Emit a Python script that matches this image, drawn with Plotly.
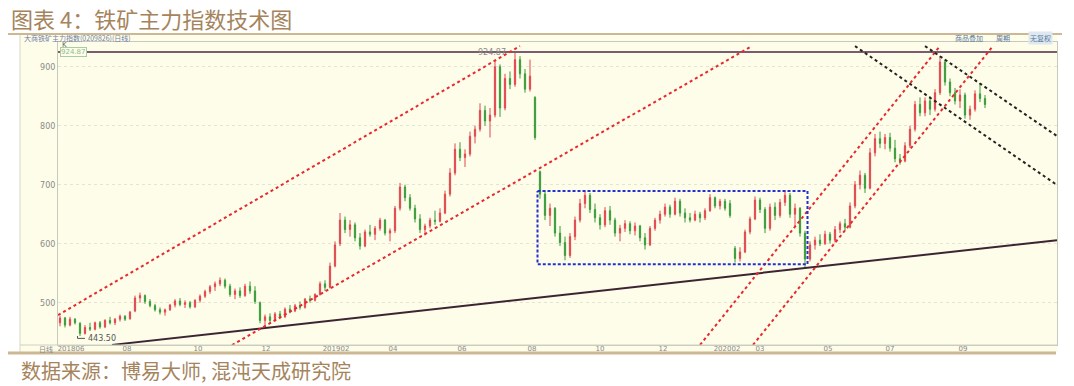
import plotly.graph_objects as go

# ---------------- data (one candle ~ every 3 trading days) ----------------
opens = [
    466, 474, 462, 472, 465, 448, 458, 455, 466, 459,
    470, 466, 472, 477, 473, 486, 508, 512, 502, 495,
    488, 484, 488, 496, 503, 497, 500, 493, 504, 511,
    519, 527, 532, 538, 528, 514, 520, 512, 528, 520,
    500, 470, 476, 470, 481, 476, 489, 486, 495, 492,
    506, 504, 514, 532, 526, 562, 600, 640, 624, 632,
    610, 596, 620, 616, 626, 640, 618, 622, 660, 696,
    678, 660, 642, 624, 630, 640, 638, 652, 684, 720,
    760, 746, 752, 782, 794, 826, 808, 818, 900, 830,
    880, 870, 912, 888, 862, 848, 722, 684, 648, 660,
    618, 602, 580, 612, 640, 668, 682, 658, 644, 632,
    656, 640, 618, 626, 634, 622, 630, 610, 598, 626,
    640, 650, 662, 650, 672, 652, 644, 640, 650, 644,
    656, 678, 664, 672, 668, 592, 575, 586, 620, 642,
    674, 658, 626, 662, 648, 670, 682, 650, 660, 618,
    574, 598, 606, 600, 616, 606, 624, 634, 628, 664,
    700, 716, 694, 754, 778, 770, 780, 762, 744, 740,
    766, 794, 836, 822, 842, 828, 856, 908, 874, 856,
    842, 852, 818, 828, 854, 846,
]
highs = [
    478, 476, 476, 474, 467, 462, 466, 468, 469, 472,
    476, 474, 480, 479, 486, 512, 517, 514, 506, 498,
    492, 490, 498, 506, 508, 504, 503, 506, 514, 522,
    530, 536, 543, 541, 532, 524, 526, 532, 536, 528,
    502, 480, 482, 484, 486, 492, 496, 498, 502, 508,
    512, 516, 536, 538, 568, 604, 652, 646, 640, 636,
    618, 624, 632, 630, 644, 642, 626, 664, 703, 700,
    684, 666, 650, 634, 644, 656, 660, 690, 728, 770,
    772, 760, 790, 800, 838, 834, 830, 912, 904, 888,
    892, 924.87, 918, 896, 912, 850, 724, 690, 668, 662,
    630, 612, 618, 646, 676, 690, 686, 668, 650, 662,
    664, 644, 632, 640, 638, 636, 632, 618, 630, 644,
    656, 668, 666, 678, 676, 660, 652, 656, 654, 660,
    684, 680, 676, 676, 674, 596, 594, 624, 646, 680,
    678, 662, 668, 670, 676, 691, 686, 668, 662, 622,
    604, 612, 616, 622, 620, 630, 638, 642, 670, 706,
    724, 720, 762, 786, 790, 786, 788, 776, 752, 772,
    800, 842, 848, 848, 850, 862, 918, 912, 880, 864,
    862, 856, 834, 860, 872, 852,
]
lows = [
    460, 458, 460, 463, 443.5, 446, 452, 453, 456, 457,
    463, 462, 468, 469, 471, 484, 500, 498, 492, 485,
    480, 478, 486, 492, 494, 491, 490, 491, 500, 508,
    515, 520, 528, 524, 510, 506, 508, 510, 515, 498,
    465, 458, 466, 468, 472, 474, 482, 484, 488, 490,
    500, 502, 512, 520, 524, 560, 596, 618, 612, 604,
    590, 594, 612, 606, 622, 614, 604, 618, 656, 672,
    656, 636, 618, 614, 626, 632, 636, 650, 680, 716,
    740, 730, 748, 770, 790, 800, 780, 814, 815, 826,
    862, 866, 880, 856, 858, 776, 676, 640, 630, 612,
    596, 572, 576, 606, 636, 660, 652, 636, 624, 628,
    632, 612, 604, 620, 616, 614, 604, 590, 596, 622,
    634, 646, 644, 648, 646, 636, 636, 638, 636, 640,
    654, 660, 658, 656, 644, 568, 570, 584, 616, 640,
    652, 618, 622, 640, 644, 664, 644, 630, 612, 559,
    570, 590, 596, 598, 600, 602, 618, 622, 626, 660,
    692, 686, 692, 748, 762, 760, 756, 738, 734, 738,
    762, 790, 816, 816, 818, 824, 852, 868, 850, 836,
    830, 812, 810, 824, 840, 830,
]
closes = [
    474, 462, 472, 466, 448, 458, 455, 466, 459, 470,
    466, 472, 477, 472, 484, 508, 512, 502, 495, 488,
    484, 488, 496, 503, 497, 500, 493, 504, 511, 519,
    527, 532, 538, 528, 514, 520, 512, 528, 520, 502,
    470, 476, 470, 481, 476, 489, 486, 495, 492, 506,
    504, 514, 532, 526, 562, 598, 640, 624, 632, 610,
    596, 620, 616, 626, 640, 618, 622, 660, 696, 678,
    660, 642, 624, 630, 640, 638, 652, 684, 720, 760,
    746, 752, 782, 794, 826, 808, 818, 900, 830, 880,
    870, 912, 888, 862, 884, 780, 684, 648, 660, 618,
    602, 580, 612, 640, 668, 682, 658, 644, 632, 656,
    640, 618, 626, 634, 622, 630, 610, 598, 626, 640,
    650, 662, 650, 672, 652, 644, 640, 650, 644, 656,
    678, 664, 672, 660, 648, 575, 586, 620, 642, 674,
    658, 626, 662, 648, 670, 682, 650, 660, 618, 574,
    598, 606, 600, 616, 606, 624, 634, 628, 664, 700,
    716, 694, 754, 778, 770, 780, 762, 744, 740, 766,
    794, 836, 822, 842, 828, 856, 908, 874, 856, 842,
    852, 818, 828, 854, 846, 836,
]
assert len(opens) == len(highs) == len(lows) == len(closes)
idx = list(range(len(closes)))

month_pos = [2.2, 13.4, 27.6, 41.2, 55.2, 66.6, 80.4, 94.4, 108, 120.6, 133.4, 140, 153.6, 166, 180.6]
month_labels = ["201806", "08", "10", "12", "201902", "04", "06", "08", "10", "12",
                "202002", "03", "05", "07", "09"]
y_ticks = [500, 600, 700, 800, 900]

peak_value = 924.87
low_value = 443.50
low_index = 4

# trend lines: (x-index pair, price pair)
support_x, support_y = [10.4, 199.4], [428.5, 606.0]
chan_up_x, chan_up_y = [-0.4, 92.0], [479.0, 935.0]
chan_lo_x, chan_lo_y = [34.4, 138.4], [428.3, 935.0]
steep1_x, steep1_y = [128.0, 176.0], [428.3, 935.0]
steep2_x, steep2_y = [138.6, 186.6], [428.3, 935.0]
down1_x, down1_y = [159.0, 199.4], [935.0, 699.5]
down2_x, down2_y = [173.0, 199.4], [935.0, 782.5]
box_x, box_y = [95.5, 149.5], [565.1, 689.3]

# ---------------- figure ----------------
W, H = 1074, 386
L, R, T, B = 58, 17, 42, 41
PW, PH = W - L - R, H - T - B


def px(xp):
    return (xp - L) / PW


def py(yp):
    return (H - B - yp) / PH


RED = "#E0484E"
GREEN = "#3C9A3C"
TAN = "#A5845C"

fig = go.Figure()
fig.add_trace(go.Candlestick(
    x=idx, open=opens, high=highs, low=lows, close=closes,
    increasing=dict(line=dict(color=RED, width=1), fillcolor=RED),
    decreasing=dict(line=dict(color=GREEN, width=1), fillcolor=GREEN),
    whiskerwidth=0, showlegend=False, hoverinfo="skip",
))


def add_line(xs, ys, color, width=2, dash="3px,3px"):
    fig.add_trace(go.Scatter(x=xs, y=ys, mode="lines", showlegend=False, hoverinfo="skip",
                             line=dict(color=color, width=width, dash=dash)))


add_line([-0.4, 199.4], [peak_value, peak_value], "#7A5C6E", 2, "solid")
add_line(support_x, support_y, "#3D2433", 2, "solid")
for xs, ys in [(chan_up_x, chan_up_y), (chan_lo_x, chan_lo_y), (steep1_x, steep1_y), (steep2_x, steep2_y)]:
    add_line(xs, ys, "#E8282E", 2, "3px,3px")
for xs, ys in [(down1_x, down1_y), (down2_x, down2_y)]:
    add_line(xs, ys, "#222222", 2, "3px,3px")
add_line([box_x[0], box_x[1], box_x[1], box_x[0], box_x[0]],
         [box_y[1], box_y[1], box_y[0], box_y[0], box_y[1]], "#2530D0", 2, "3px,2px")
# low marker
add_line([low_index - 0.5, low_index - 0.5, low_index + 1.0], [low_value, low_value - 4, low_value - 4], "#555555", 1, "solid")

shapes = [
    # cream panel
    dict(type="rect", xref="paper", yref="paper", x0=px(20), x1=px(1057), y0=py(352), y1=py(35),
         fillcolor="#FDFDE9", line=dict(width=0), layer="below"),
    dict(type="line", xref="paper", yref="paper", x0=px(20), x1=px(20), y0=py(352), y1=py(35),
         line=dict(color="#D8D8C8", width=1)),
    dict(type="line", xref="paper", yref="paper", x0=px(20), x1=px(1057), y0=py(345), y1=py(345),
         line=dict(color="#D0D0C0", width=1)),
    # tan rules
    dict(type="line", xref="paper", yref="paper", x0=px(8), x1=px(1062), y0=py(34), y1=py(34),
         line=dict(color="#CDB894", width=2)),
    dict(type="line", xref="paper", yref="paper", x0=px(8), x1=px(1056), y0=py(353), y1=py(353),
         line=dict(color="#CDB894", width=3)),
]

small = dict(family="DejaVu Sans", size=8, color="#8A8A8A")
annotations = [
    dict(text="图表 4：铁矿主力指数技术图", xref="paper", yref="paper", x=px(9), y=py(18),
         xanchor="left", yanchor="middle", showarrow=False,
         font=dict(family="Noto Sans CJK SC", size=22, color=TAN)),
    dict(text="数据来源：博易大师, 混沌天成研究院", xref="paper", yref="paper", x=px(19), y=py(370),
         xanchor="left", yanchor="middle", showarrow=False,
         font=dict(family="Noto Sans CJK SC", size=20, color=TAN)),
    dict(text="大商铁矿主力指数(0209826)(日线)", xref="paper", yref="paper", x=px(22), y=py(38.5),
         xanchor="left", yanchor="middle", showarrow=False,
         font=dict(family="Noto Sans CJK SC", size=7, color="#7080A8")),
    dict(text="K", xref="paper", yref="paper", x=px(60), y=py(45),
         xanchor="left", yanchor="middle", showarrow=False,
         font=dict(family="DejaVu Sans", size=7, color="#666666")),
    dict(text="924.87", xref="paper", yref="paper", x=px(60), y=py(51.5),
         xanchor="left", yanchor="middle", showarrow=False, borderpad=0,
         bordercolor="#A8CCA8", borderwidth=1, bgcolor="#FDFDE9",
         font=dict(family="DejaVu Sans", size=7, color="#8CC08C")),
    dict(text="商品叠加", xref="paper", yref="paper", x=px(969), y=py(38.5),
         xanchor="center", yanchor="middle", showarrow=False,
         font=dict(family="Noto Sans CJK SC", size=7, color="#5878A0")),
    dict(text="周期", xref="paper", yref="paper", x=px(1003), y=py(38.5),
         xanchor="center", yanchor="middle", showarrow=False,
         font=dict(family="Noto Sans CJK SC", size=7, color="#5878A0")),
    dict(text="无复权", xref="paper", yref="paper", x=px(1040), y=py(38.5),
         xanchor="center", yanchor="middle", showarrow=False, bgcolor="#DDE8F0",
         font=dict(family="Noto Sans CJK SC", size=7, color="#5878A0")),
    dict(text="日线", xref="paper", yref="paper", x=px(46), y=py(348.5),
         xanchor="center", yanchor="middle", showarrow=False,
         font=dict(family="Noto Sans CJK SC", size=7, color="#8A8A8A")),
    dict(text="924.87", x=86.4, y=peak_value, xref="x", yref="y", xanchor="center", yanchor="middle",
         showarrow=False, font=small),
    dict(text="443.50", x=low_index + 1.1, y=low_value - 4, xref="x", yref="y", xanchor="left",
         yanchor="middle", showarrow=False, font=dict(family="DejaVu Sans", size=8, color="#555555")),
]

fig.update_layout(
    width=W, height=H,
    margin=dict(l=L, r=R, t=T, b=B),
    paper_bgcolor="white", plot_bgcolor="#FDFDE9",
    shapes=shapes, annotations=annotations,
    showlegend=False,
    boxgap=0.65,
    xaxis=dict(range=[-0.4, 199.4], rangeslider=dict(visible=False), showgrid=False, zeroline=False,
               tickmode="array", tickvals=month_pos, ticktext=month_labels, ticks="",
               tickfont=dict(family="DejaVu Sans", size=7, color="#8A8A8A"),
               showline=True, linecolor="#C8C8BC", linewidth=1, mirror=True,
               ticklabelstandoff=-3),
    yaxis=dict(range=[428.3, 941.9], showgrid=True, gridcolor="#E4E4D2", griddash="dot", gridwidth=1,
               zeroline=False, tickmode="array", tickvals=y_ticks, ticks="", tickfont=small,
               showline=True, linecolor="#C8C8BC", linewidth=1, mirror=True),
)

fig.write_html("out.html", config={"displayModeBar": False},
               post_script="document.body.style.margin='0px';document.body.style.overflow='hidden';")
